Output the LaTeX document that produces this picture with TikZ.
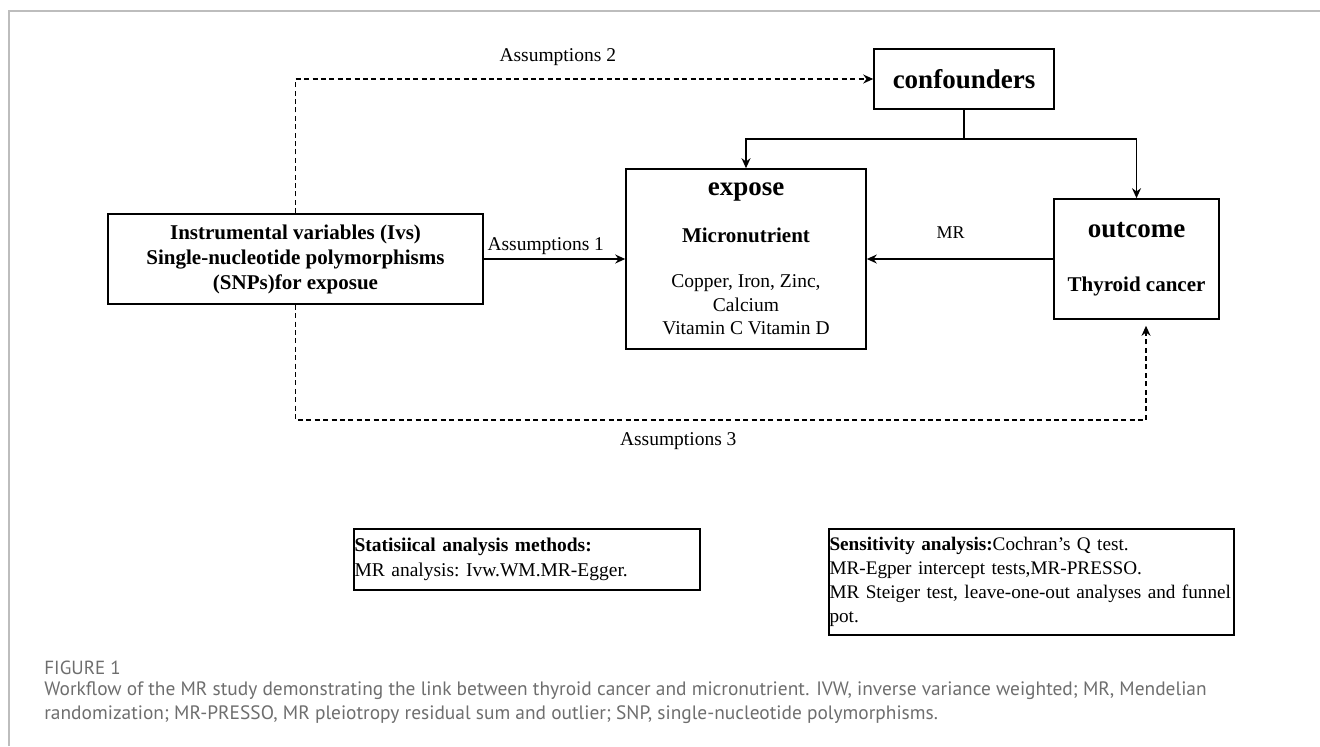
\documentclass[tikz,border=0pt]{standalone}
\usepackage{fontspec}
\setmainfont{Liberation Serif}
\newfontfamily\capfont{PT Sans}
\usetikzlibrary{arrows.meta}
\usetikzlibrary{calc}
\definecolor{capgray}{HTML}{6E6E6E}
\definecolor{framegray}{HTML}{BDBDBD}

\begin{document}
\begin{tikzpicture}[x=.5pt, y=-.5pt, >={Stealth[length=5pt,width=4.5pt]},
mainbox/.style={draw=black, line width=.8pt, inner sep=0, align=center, font=\fontsize{9.75}{11.7}\selectfont},
headline/.style={font=\fontsize{13.5}{16}\selectfont\bfseries},
notebox/.style={draw=black, line width=.8pt, inner xsep=.25pt, inner ysep=0, align=left, font=\fontsize{9.75}{12.2}\selectfont\frenchspacing},
solidarr/.style={->, line width=.7pt},
dasharr/.style={->, line width=.6pt, dash pattern=on 2.5pt off 1.7pt},
assum/.style={font=\fontsize{9.75}{11.7}\selectfont, inner sep=0},
caption/.style={text=capgray, inner sep=0, anchor=west, align=left}]
\useasboundingbox (0,0) rectangle (1320,746);
\draw[framegray, line width=.75pt] (9,746) -- (9,11) -- (1320,11);
% boxes
\node[mainbox, minimum width=187.5pt, minimum height=45pt, font=\fontsize{10.5}{12.5}\selectfont\bfseries] (ivs) at (295.5,259) {Instrumental variables (Ivs)\\Single-nucleotide polymorphisms\\(SNPs)for exposue};
\node[mainbox, headline, minimum width=90pt, minimum height=30pt] (conf) at (964,79) {confounders};
\node[mainbox, minimum width=120pt, minimum height=90pt] (expose) at (746,259) {{\fontsize{13.5}{16}\selectfont\bfseries expose}\\[11.8pt]{\fontsize{10.5}{12.5}\selectfont\bfseries Micronutrient}\\[10.8pt]Copper, Iron, Zinc,\\Calcium\\Vitamin C Vitamin D};
\node[mainbox, minimum width=82.5pt, minimum height=60pt] (outcome) at (1136.5,259) {{\fontsize{13.5}{16}\selectfont\bfseries outcome}\\[15.3pt]{\fontsize{10.5}{12.5}\selectfont\bfseries Thyroid cancer}};
\node[notebox, text width=172.5pt, minimum height=30.5pt] (stat) at (527,559.5) {\textbf{Statisiical analysis methods:}\\MR analysis: Ivw.WM.MR-Egger.};
\node[notebox, text width=202pt, minimum height=53pt, font=\fontsize{9.6}{11.9}\selectfont\frenchspacing] (sens) at (1031.5,582) {\textbf{Sensitivity analysis:}Cochran's Q test.\\MR-Egper intercept tests,MR-PRESSO.\\\mbox{MR Steiger test, leave-one-out analyses and funnel}\\pot.};
% connectors
\coordinate (split) at (964,139);
\coordinate (lowr) at (1146,420);
\draw[solidarr] (ivs) -- (expose) node[assum, pos=0, anchor=west, xshift=1.5pt, yshift=6.5pt] {Assumptions 1};
\draw[dasharr] (ivs) |- (conf) node[assum, pos=.727, yshift=11pt] {Assumptions 2};
\draw[solidarr] (conf) -- (split) -| (expose);
\draw[solidarr] (split) -| (outcome);
\draw[solidarr] (outcome) -- (expose) node[assum, pos=.55, yshift=13pt, font=\fontsize{9}{11}\selectfont] {MR};
\draw[dasharr, shorten >=3pt] (ivs) |- (lowr) node[assum, pos=.725, yshift=-10.5pt] {Assumptions 3} -- (lowr |- outcome.south);
% caption
\node[caption, font=\capfont\fontsize{9.5}{10}\selectfont] (figno) at (44,668) {FIGURE 1};
\node[caption, font=\capfont\fontsize{9.7}{12}\selectfont] (legend) at (44,703) {Workflow of the MR study demonstrating the link between thyroid cancer and micronutrient. IVW, inverse variance weighted; MR, Mendelian\\randomization; MR-PRESSO, MR pleiotropy residual sum and outlier; SNP, single-nucleotide polymorphisms.};
\end{tikzpicture}
\end{document}
